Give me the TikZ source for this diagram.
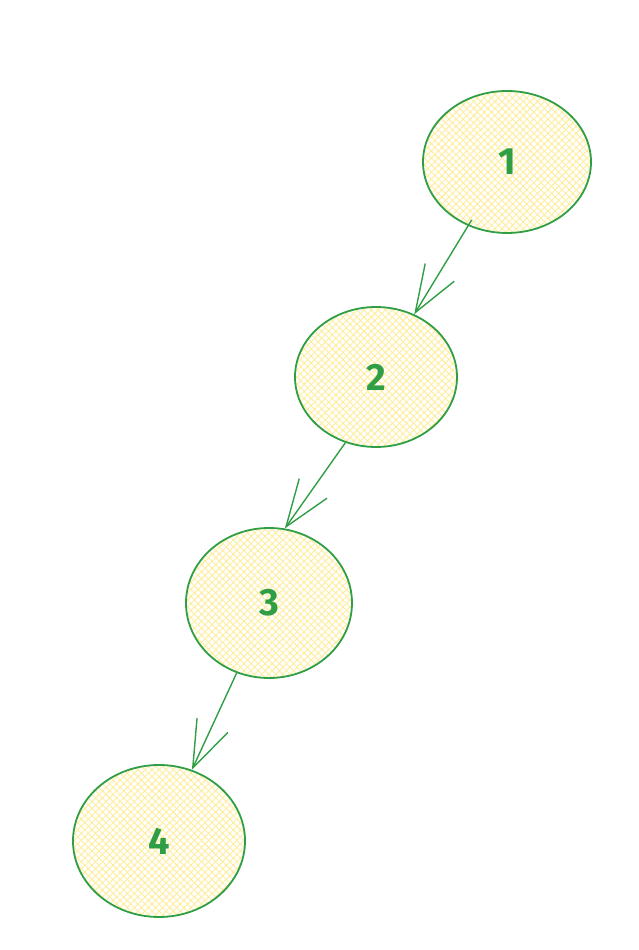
\documentclass[tikz,border=0pt]{standalone}
\usepackage{fontspec}
\usepackage{tikz}
\usetikzlibrary{shapes.geometric}
\usetikzlibrary{arrows.meta}
\usetikzlibrary{patterns.meta}
\usepackage{xcolor}
\newfontfamily\digitfont{Fira Sans}
\definecolor{treegreen}{HTML}{2F9E44}
\definecolor{hatchyellow}{HTML}{FFEC99}

\begin{document}
\begin{tikzpicture}[x=1pt,y=1pt,
  leaf/.style={ellipse,draw=treegreen,line width=1.8pt,inner sep=0pt,
    text=treegreen,font=\digitfont\bfseries\fontsize{38}{38}\selectfont,
    preaction={pattern={Lines[angle=45,distance=5pt,line width=0.9pt]},pattern color=hatchyellow},
    preaction={pattern={Lines[angle=-45,distance=5pt,line width=0.9pt]},pattern color=hatchyellow}},
  link/.style={draw=treegreen,line width=1.4pt,
    -{Straight Barb[length=47pt,width=34pt,line width=1.4pt]}}]
  \useasboundingbox (0,0) rectangle (638,950);
  \node[leaf,minimum width=168pt,minimum height=142pt] (n1) at (507,788) {1};
  \node[leaf,minimum width=162pt,minimum height=140pt] (n2) at (376,573) {2};
  \node[leaf,minimum width=166pt,minimum height=150pt] (n3) at (269,347) {3};
  \node[leaf,minimum width=172pt,minimum height=152pt] (n4) at (159,109) {4};
  \draw[link,shorten <=-7pt] (n1) -- (n2);
  \draw[link] (n2.245) -- (n3.78);
  \draw[link] (n3) -- (n4);
\end{tikzpicture}
\end{document}
